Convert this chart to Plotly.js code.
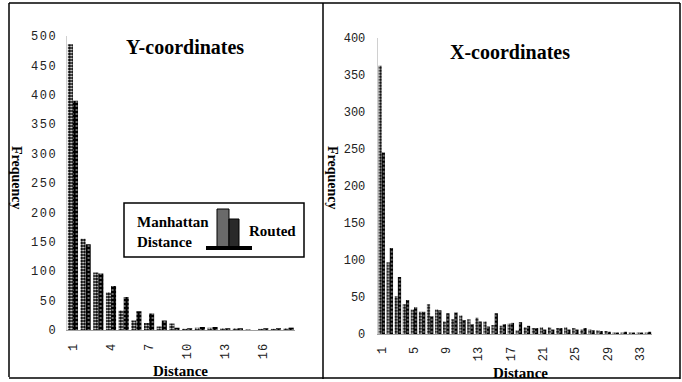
<!DOCTYPE html>
<html>
<head>
<meta charset="utf-8">
<script src="https://cdn.plot.ly/plotly-3.0.1.min.js"></script>
<style>
html,body{margin:0;padding:0;background:#fff;}
#chart{width:682px;height:382px;}
.ytick text{letter-spacing:1.5px;}
.xtick text{letter-spacing:1px;}
</style>
</head>
<body>
<div id="chart"></div>
<script>
// ---- Data ----
const yDistances = [1,2,3,4,5,6,7,8,9,10,11,12,13,14,15,16,17,18];
const yManhattan = [486,155,98,64,33,16,12,6,11,2,4,4,3,3,1,2,2,3];
const yRouted    = [390,146,96,75,56,32,28,16,4,3,5,5,3,3,0,3,3,4];

const xDistances = [1,2,3,4,5,6,7,8,9,10,11,12,13,14,15,16,17,18,19,20,21,22,23,24,25,26,27,28,29,30,31,32,33,34];
const xManhattan = [362,97,51,40,33,30,40,33,17,20,25,20,22,17,12,11,14,5,9,8,9,9,8,9,8,6,6,5,4,2,2,2,2,2];
const xRouted    = [245,116,77,46,36,30,24,32,28,29,19,13,17,10,28,13,15,16,11,8,6,6,8,6,6,8,5,4,3,2,3,2,2,3];

const yTickVals = [1,4,7,10,13,16];
const xTickVals = [1,5,9,13,17,21,25,29,33];
const freqTicksLeft = [0,50,100,150,200,250,300,350,400,450,500];
const freqTicksRight = [0,50,100,150,200,250,300,350,400];

const W = 682, H = 382;
const px = v => v / W;
const py = v => 1 - v / H;

const manPattern = {shape:'.', fgcolor:'#ffffff', bgcolor:'#000000', size:3, solidity:0.35, fillmode:'replace'};
const rouPattern = {shape:'.', fgcolor:'#ffffff', bgcolor:'#000000', size:4, solidity:0.12, fillmode:'replace'};

const traces = [
  {type:'bar', x:yDistances, y:yManhattan, name:'Manhattan Distance', xaxis:'x', yaxis:'y',
   marker:{color:'#000', pattern:manPattern, line:{width:0}}},
  {type:'bar', x:yDistances, y:yRouted, name:'Routed', xaxis:'x', yaxis:'y',
   marker:{color:'#000', pattern:rouPattern, line:{width:0}}},
  {type:'bar', x:xDistances, y:xManhattan, name:'Manhattan Distance', xaxis:'x2', yaxis:'y2',
   marker:{color:'#000', pattern:manPattern, line:{width:0}}},
  {type:'bar', x:xDistances, y:xRouted, name:'Routed', xaxis:'x2', yaxis:'y2',
   marker:{color:'#000', pattern:rouPattern, line:{width:0}}}
];

const tickFont = {family:'Liberation Mono, DejaVu Sans Mono, monospace', size:12, color:'#222'};
const serifBold = 'Liberation Serif, Times New Roman, serif';

const xCommon = {
  tickmode:'array', tickangle:-90, ticks:'', showgrid:false, zeroline:false,
  showline:true, linecolor:'#a0a0a0', linewidth:1, tickfont:tickFont,
  ticklabelstandoff:7, fixedrange:true
};
const yCommon = {
  tickmode:'array', ticks:'', showgrid:false, zeroline:false,
  showline:true, linecolor:'#d0d0d0', linewidth:1, tickfont:tickFont,
  fixedrange:true
};

function ann(text, x, y, size, angle, extra) {
  return Object.assign({text:text, x:px(x), y:py(y), xref:'paper', yref:'paper', showarrow:false,
    xanchor:'center', yanchor:'middle', textangle:angle || 0,
    font:{family:serifBold, size:size, color:'#000', weight:'bold'}}, extra || {});
}

const layout = {
  width:W, height:H,
  margin:{l:0,r:0,t:0,b:0},
  paper_bgcolor:'#fff', plot_bgcolor:'#fff',
  showlegend:false,
  barmode:'group', bargap:0.2, bargroupgap:0,
  xaxis:Object.assign({}, xCommon, {domain:[px(66.6), px(295)], range:[0.5,18.5], tickvals:yTickVals, ticktext:yTickVals.map(String), anchor:'y'}),
  yaxis:Object.assign({}, yCommon, {domain:[py(330), py(36)], range:[0,500], tickvals:freqTicksLeft, ticktext:freqTicksLeft.map(String), anchor:'x', ticklabelstandoff:6}),
  xaxis2:Object.assign({}, xCommon, {domain:[px(377.7), px(652)], range:[0.5,34.5], tickvals:xTickVals, ticktext:xTickVals.map(String), anchor:'y2'}),
  yaxis2:Object.assign({}, yCommon, {domain:[py(334), py(37.7)], range:[0,400], tickvals:freqTicksRight, ticktext:freqTicksRight.map(String), anchor:'x2', ticklabelstandoff:9}),
  annotations:[
    ann('Y-coordinates', 185, 47, 20),
    ann('X-coordinates', 510, 52, 20),
    ann('Frequency', 17, 178, 14, 90),
    ann('Frequency', 333, 178, 14, 90),
    ann('Distance', 180, 371, 15),
    ann('Distance', 520, 373, 15),
    ann('Manhattan<br>Distance', 173, 232, 15, 0, {align:'left'}),
    ann('Routed', 272, 231, 15)
  ],
  shapes:[
    // panel frames
    {type:'line', xref:'paper', yref:'paper', x0:px(9), x1:px(680), y0:py(3), y1:py(3), line:{color:'#000', width:1.5}},
    {type:'line', xref:'paper', yref:'paper', x0:px(9), x1:px(9), y0:py(3), y1:py(377), line:{color:'#000', width:1.5}},
    {type:'line', xref:'paper', yref:'paper', x0:px(323), x1:px(323), y0:py(3), y1:py(379), line:{color:'#000', width:1.5}},
    {type:'line', xref:'paper', yref:'paper', x0:px(680), x1:px(680), y0:py(3), y1:py(379), line:{color:'#000', width:1.5}},
    {type:'line', xref:'paper', yref:'paper', x0:px(9), x1:px(680), y0:py(378), y1:py(378), line:{color:'#000', width:1.5}},
    // legend box
    {type:'rect', xref:'paper', yref:'paper', x0:px(124), x1:px(304), y0:py(203), y1:py(257), line:{color:'#000', width:1.5}, fillcolor:'rgba(255,255,255,1)', layer:'above'},
    // legend icon
    {type:'rect', xref:'paper', yref:'paper', x0:px(217), x1:px(229), y0:py(209), y1:py(248), line:{color:'#000', width:1}, fillcolor:'#6a6a6a', layer:'above'},
    {type:'rect', xref:'paper', yref:'paper', x0:px(229), x1:px(239), y0:py(219), y1:py(248), line:{color:'#000', width:1}, fillcolor:'#2a2a2a', layer:'above'},
    {type:'line', xref:'paper', yref:'paper', x0:px(206), x1:px(252), y0:py(248), y1:py(248), line:{color:'#000', width:4}, layer:'above'}
  ]
};

Plotly.newPlot('chart', traces, layout, {displayModeBar:false, staticPlot:true});
</script>
</body>
</html>
